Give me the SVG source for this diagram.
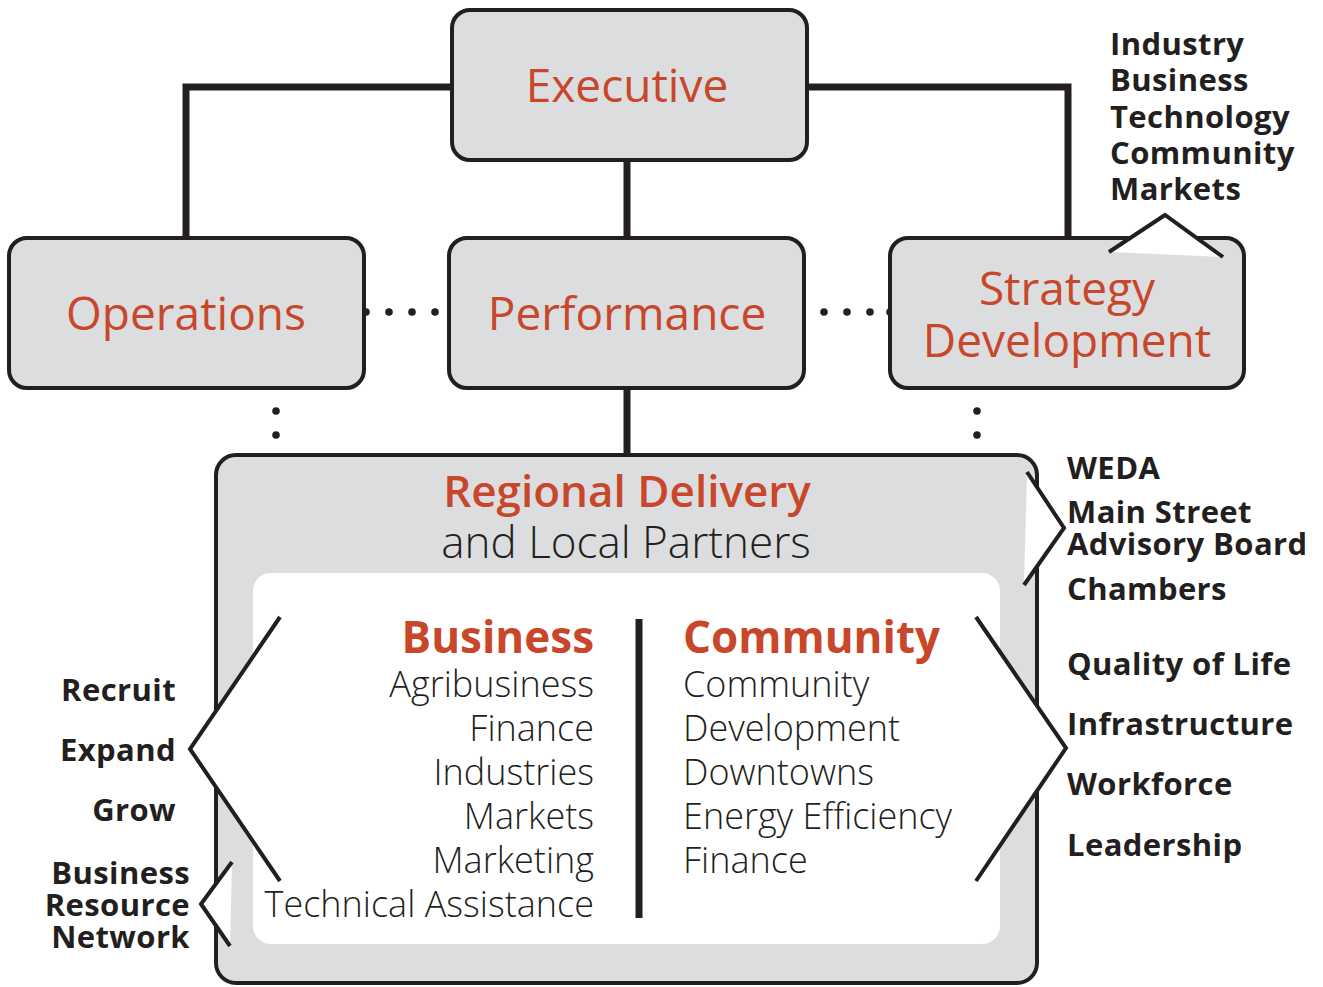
<svg xmlns="http://www.w3.org/2000/svg" width="1323" height="987" viewBox="0 0 1323 987">
<style>
.box{fill:#dcdddf;stroke:#231f20;stroke-width:4}
.conn{fill:none;stroke:#231f20;stroke-width:7}
.dot{fill:#231f20}
.chev{fill:#fff;stroke:none}
.chevl{fill:none;stroke:#231f20;stroke-width:4;stroke-linejoin:miter}
.title{font-family:"Open Sans","Noto Sans",sans-serif;fill:#c8472b;font-size:46px;text-anchor:middle}
.sub{font-family:"Open Sans","Noto Sans",sans-serif;fill:#231f20;font-size:44px;font-weight:300;text-anchor:middle}
.head{font-family:"Open Sans","Noto Sans",sans-serif;fill:#c8472b;font-size:44px;font-weight:700}
.item{font-family:"Open Sans","Noto Sans",sans-serif;fill:#231f20;font-size:36px;font-weight:300}
.lab{font-family:"Open Sans","Noto Sans",sans-serif;fill:#231f20;font-size:31px;font-weight:700;letter-spacing:0.4px}
.r{text-anchor:end}
</style>
<rect width="1323" height="987" fill="#fff"/>
<g id="connectors">
<polyline class="conn" points="452,87 186,87 186,238"/>
<polyline class="conn" points="807,87 1068,87 1068,238"/>
<line class="conn" x1="627" y1="160" x2="627" y2="238"/>
<line class="conn" x1="627" y1="388" x2="627" y2="455"/>
<g class="dot">
<circle cx="366" cy="312" r="3.8"/><circle cx="389" cy="312" r="3.8"/><circle cx="412" cy="312" r="3.8"/><circle cx="435" cy="312" r="3.8"/>
<circle cx="824" cy="312" r="3.8"/><circle cx="847" cy="312" r="3.8"/><circle cx="870" cy="312" r="3.8"/><circle cx="890" cy="312" r="3.8"/>
<circle cx="276" cy="411" r="3.8"/><circle cx="276" cy="435" r="3.8"/>
<circle cx="977" cy="411" r="3.8"/><circle cx="977" cy="435" r="3.8"/>
</g>
</g>
<g id="executive">
<rect class="box" x="452" y="10" width="355" height="150" rx="18"/>
<text class="title" x="627" y="102">Executive</text>
</g>
<g id="operations">
<rect class="box" x="9" y="238" width="355" height="150" rx="18"/>
<text class="title" x="186" y="330">Operations</text>
</g>
<g id="performance">
<rect class="box" x="449" y="238" width="355" height="150" rx="18"/>
<text class="title" x="627" y="330">Performance</text>
</g>
<g id="strategy">
<rect class="box" x="890" y="238" width="354" height="150" rx="18"/>
<text class="title" x="1067" y="305">Strategy</text>
<text class="title" x="1067" y="357">Development</text>
</g>
<g id="strategy-inputs">
<polygon class="chev" points="1109,252 1165,215 1223,257"/>
<polyline class="chevl" points="1109,252 1165,215 1223,257"/>
<text class="lab" x="1110" y="55">Industry</text>
<text class="lab" x="1110" y="91">Business</text>
<text class="lab" x="1110" y="128">Technology</text>
<text class="lab" x="1110" y="164">Community</text>
<text class="lab" x="1110" y="200">Markets</text>
</g>
<g id="regional">
<rect class="box" x="216" y="455" width="821" height="528" rx="20"/>
<text class="title" x="627" y="507" style="font-size:44px;font-weight:600">Regional Delivery</text>
<text class="sub" x="626" y="558">and Local Partners</text>
<rect x="253" y="573" width="747" height="371" rx="18" fill="#fff"/>
<line x1="639" y1="619" x2="639" y2="918" stroke="#231f20" stroke-width="7"/>
</g>
<g id="business">
<text class="head r" x="594" y="653">Business</text>
<text class="item r" x="594" y="697">Agribusiness</text>
<text class="item r" x="594" y="741">Finance</text>
<text class="item r" x="594" y="785">Industries</text>
<text class="item r" x="594" y="829">Markets</text>
<text class="item r" x="594" y="873">Marketing</text>
<text class="item r" x="594" y="917">Technical Assistance</text>
</g>
<g id="community">
<text class="head" x="683" y="653">Community</text>
<text class="item" x="683" y="697">Community</text>
<text class="item" x="683" y="741">Development</text>
<text class="item" x="683" y="785">Downtowns</text>
<text class="item" x="683" y="829">Energy Efficiency</text>
<text class="item" x="683" y="873">Finance</text>
</g>
<g id="business-actions">
<polygon class="chev" points="280,617 190,749 280,881"/>
<polyline class="chevl" points="280,617 190,749 280,881"/>
<text class="lab r" x="176" y="701">Recruit</text>
<text class="lab r" x="176" y="761">Expand</text>
<text class="lab r" x="176" y="821">Grow</text>
</g>
<g id="brn">
<polygon class="chev" points="232,862 201,904 230,946"/>
<polyline class="chevl" points="232,862 201,904 230,946"/>
<text class="lab r" x="190" y="884">Business</text>
<text class="lab r" x="190" y="916">Resource</text>
<text class="lab r" x="190" y="948">Network</text>
</g>
<g id="partners">
<polygon class="chev" points="1027,472 1064,528 1024,585"/>
<polyline class="chevl" points="1027,472 1064,528 1024,585"/>
<text class="lab" x="1067" y="479">WEDA</text>
<text class="lab" x="1067" y="523">Main Street</text>
<text class="lab" x="1067" y="555">Advisory Board</text>
<text class="lab" x="1067" y="600">Chambers</text>
</g>
<g id="community-outcomes">
<polygon class="chev" points="976,617 1066,748 976,881"/>
<polyline class="chevl" points="976,617 1066,748 976,881"/>
<text class="lab" x="1067" y="675">Quality of Life</text>
<text class="lab" x="1067" y="735">Infrastructure</text>
<text class="lab" x="1067" y="795">Workforce</text>
<text class="lab" x="1067" y="856">Leadership</text>
</g>
</svg>
